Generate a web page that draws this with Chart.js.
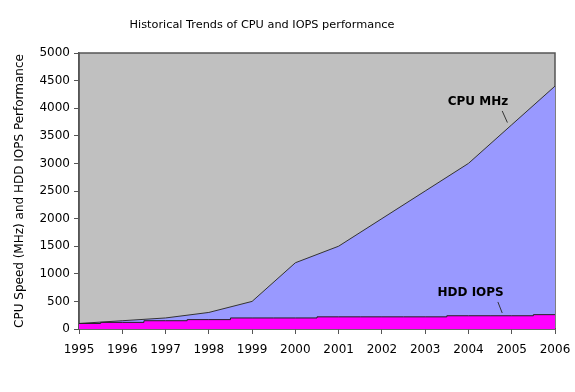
<!DOCTYPE html>
<html>
<head>
<meta charset="utf-8">
<script src="https://cdn.jsdelivr.net/npm/chart.js@4/dist/chart.umd.min.js"></script>
<style>
  html, body { margin: 0; padding: 0; background: #fff; }
  #wrap { position: relative; width: 575px; height: 392px; }
</style>
</head>
<body>
<div id="wrap"><canvas id="chart"></canvas></div>
<script>
// values
const years = [1995, 1996, 1997, 1998, 1999, 2000, 2001, 2002, 2003, 2004, 2005, 2006];
const cpuMhz = [100, 150, 200, 300, 500, 1200, 1500, 2000, 2500, 3000, 3700, 4400];
const hddIops = [100, 120, 150, 170, 200, 200, 220, 220, 220, 240, 240, 260];
const yTicks = [0, 500, 1000, 1500, 2000, 2500, 3000, 3500, 4000, 4500, 5000];

const chartTitle = "Historical Trends of CPU and IOPS performance";
const FONT = "'DejaVu Sans', Verdana, sans-serif";

const toPoints = (vals) => vals.map((v, i) => ({ x: years[i], y: v }));

// grey plot background + frame, and the title (sits a bit left of centre in the original)
const plotBg = {
  id: "plotBg",
  beforeDraw(chart) {
    const { ctx, chartArea: a } = chart;
    ctx.save();
    ctx.fillStyle = "#c0c0c0";
    ctx.fillRect(a.left, a.top, a.right - a.left, a.bottom - a.top);
    ctx.strokeStyle = "#555";
    ctx.lineWidth = 1.5;
    ctx.strokeRect(a.left, a.top, a.right - a.left, a.bottom - a.top);

    ctx.font = "11.3px " + FONT;
    ctx.fillStyle = "#000";
    ctx.textAlign = "center";
    ctx.textBaseline = "middle";
    ctx.fillText(chartTitle, 262, 25);
    ctx.restore();
  },
};

// series labels with short leader lines
const seriesLabels = {
  id: "seriesLabels",
  afterDatasetsDraw(chart) {
    const { ctx, scales } = chart;
    const x = scales.x, y = scales.y;
    const labels = [
      { text: "CPU MHz", at: [2004.22, 4120], line: [[2004.78, 3950], [2004.9, 3740]] },
      { text: "HDD IOPS", at: [2004.05, 650], line: [[2004.68, 490], [2004.78, 290]] },
    ];
    ctx.save();
    ctx.font = "bold 12px " + FONT;
    ctx.fillStyle = "#000";
    ctx.textAlign = "center";
    ctx.textBaseline = "middle";
    ctx.strokeStyle = "#333";
    ctx.lineWidth = 1;
    labels.forEach((l) => {
      ctx.fillText(l.text, x.getPixelForValue(l.at[0]), y.getPixelForValue(l.at[1]));
      ctx.beginPath();
      ctx.moveTo(x.getPixelForValue(l.line[0][0]), y.getPixelForValue(l.line[0][1]));
      ctx.lineTo(x.getPixelForValue(l.line[1][0]), y.getPixelForValue(l.line[1][1]));
      ctx.stroke();
    });
    ctx.restore();
  },
};

new Chart(document.getElementById("chart"), {
  type: "line",
  data: {
    datasets: [
      {
        label: "HDD IOPS",
        data: toPoints(hddIops),
        stepped: "middle",
        fill: "origin",
        backgroundColor: "#ff00ff",
        borderColor: "#222",
        borderWidth: 1,
        pointRadius: 0,
      },
      {
        label: "CPU MHz",
        data: toPoints(cpuMhz),
        fill: "origin",
        backgroundColor: "#9999ff",
        borderColor: "#333",
        borderWidth: 1,
        pointRadius: 0,
        tension: 0,
      },
    ],
  },
  options: {
    responsive: true,
    maintainAspectRatio: false,
    animation: false,
    layout: { padding: { left: 0, right: 20, top: 53, bottom: 0 } },
    plugins: {
      legend: { display: false },
      tooltip: { enabled: false },
      title: { display: false },
    },
    scales: {
      x: {
        type: "linear",
        min: 1995,
        max: 2006,
        afterBuildTicks: (s) => { s.ticks = years.map((v) => ({ value: v })); },
        ticks: {
          color: "#000",
          font: { family: FONT, size: 12 },
          padding: 9,
          maxRotation: 0,
          callback: (v) => String(v),
        },
        grid: { drawOnChartArea: false, drawTicks: true, tickLength: 5, color: "#555" },
        border: { display: true, color: "#555", width: 1.5 },
        afterFit: (s) => { s.height = 63; s.paddingLeft = 0; s.paddingRight = 0; },
      },
      y: {
        min: 0,
        max: 5000,
        afterBuildTicks: (s) => { s.ticks = yTicks.map((v) => ({ value: v })); },
        ticks: {
          color: "#000",
          font: { family: FONT, size: 12 },
          padding: 4,
          callback: (v) => String(v),
        },
        title: {
          display: true,
          text: "CPU Speed (MHz) and HDD IOPS Performance",
          color: "#000",
          font: { family: FONT, size: 12, weight: "normal" },
          padding: { top: 13, bottom: 0 },
        },
        grid: { drawOnChartArea: false, drawTicks: true, tickLength: 5, color: "#555" },
        border: { display: true, color: "#555", width: 1.5 },
        afterFit: (s) => { s.width = 79; },
      },
    },
  },
  plugins: [plotBg, seriesLabels],
});
</script>
</body>
</html>
